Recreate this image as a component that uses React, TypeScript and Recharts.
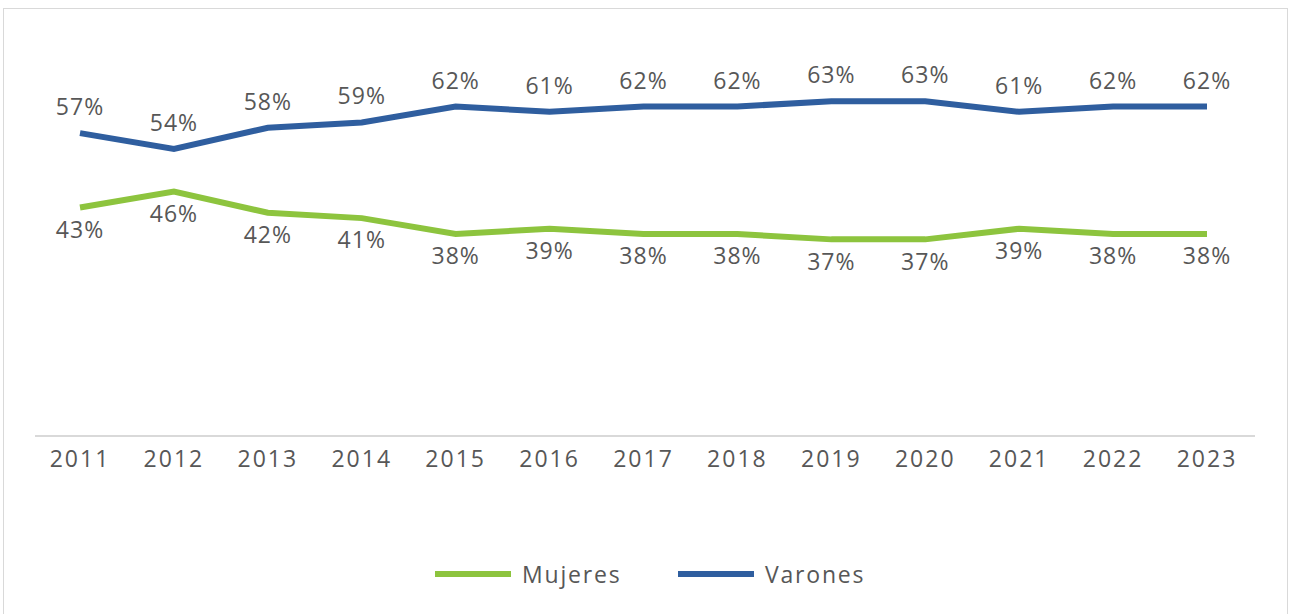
import { LineChart, Line, XAxis, YAxis, LabelList } from 'recharts';

const YEARS = ['2011', '2012', '2013', '2014', '2015', '2016', '2017', '2018', '2019', '2020', '2021', '2022', '2023'];
const MUJERES = [43, 46, 42, 41, 38, 39, 38, 38, 37, 37, 39, 38, 38];
const VARONES = [57, 54, 58, 59, 62, 61, 62, 62, 63, 63, 61, 62, 62];

const SERIES = [
  { key: 'mujeres', name: 'Mujeres', color: '#8DC43E' },
  { key: 'varones', name: 'Varones', color: '#2F5E9F' },
];

const TEXT = '#575757';
const FONT = '"Open Sans", "Liberation Sans", sans-serif';

const data = YEARS.map((year, i) => ({ year, mujeres: MUJERES[i], varones: VARONES[i] }));

const pct = (v: unknown) => `${v}%`;

export default function App() {
  return (
    <div
      style={{
        position: 'absolute', left: 3, top: 8, width: 1285, height: 620,
        border: '1px solid #d9d9d9', boxSizing: 'border-box', background: '#fff', fontFamily: FONT,
      }}
    >
      <LineChart width={1283} height={605} data={data} margin={{ top: 55, right: 32, bottom: 148, left: 31 }}>
        <XAxis
          dataKey="year"
          padding={{ left: 45, right: 48 }}
          tickLine={false}
          tickMargin={9}
          height={30}
          axisLine={{ stroke: '#d9d9d9', strokeWidth: 2 }}
          tick={{ fill: TEXT, fontSize: 23, fontFamily: FONT, letterSpacing: 2 }}
        />
        <YAxis hide domain={[0, 70]} />
        <Line dataKey="mujeres" name="Mujeres" stroke={SERIES[0].color} strokeWidth={6} dot={false} isAnimationActive={false}>
          <LabelList dataKey="mujeres" position="bottom" offset={14} formatter={pct}
            style={{ fill: TEXT, fontSize: 23, fontFamily: FONT, letterSpacing: 1 }} />
        </Line>
        <Line dataKey="varones" name="Varones" stroke={SERIES[1].color} strokeWidth={6} dot={false} isAnimationActive={false}>
          <LabelList dataKey="varones" position="top" offset={18} formatter={pct}
            style={{ fill: TEXT, fontSize: 23, fontFamily: FONT, letterSpacing: 1 }} />
        </Line>
      </LineChart>
      {SERIES.map((s, i) => (
        <div key={s.key} style={{ position: 'absolute', left: i === 0 ? 431 : 674, top: 545, display: 'flex', alignItems: 'center', height: 40 }}>
          <span style={{ display: 'inline-block', width: 76, height: 6, background: s.color, marginRight: 11 }} />
          <span style={{ color: TEXT, fontSize: 23, letterSpacing: 1.8 }}>{s.name}</span>
        </div>
      ))}
    </div>
  );
}
